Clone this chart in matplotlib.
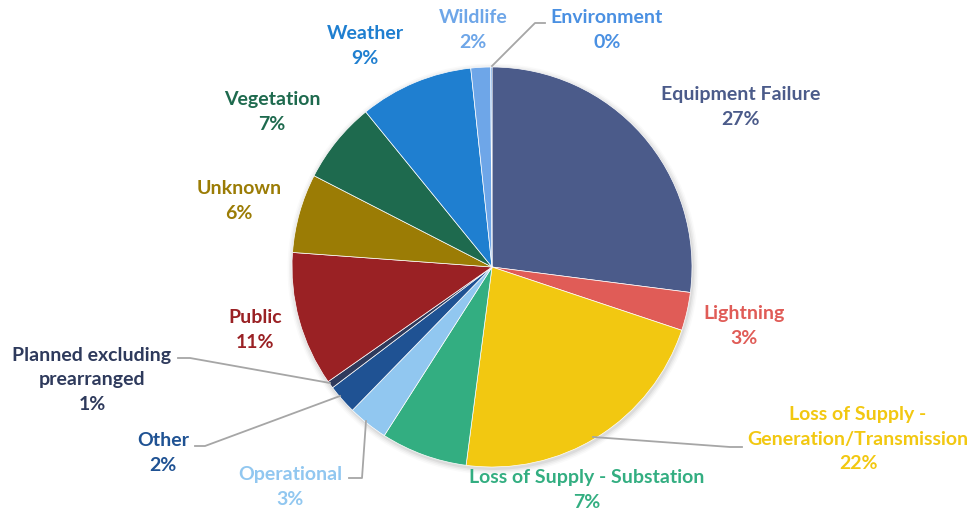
import matplotlib
matplotlib.use("Agg")
import matplotlib.pyplot as plt
from matplotlib.patches import Circle

categories = ["Equipment Failure", "Lightning", "Loss of Supply -\nGeneration/Transmission",
              "Loss of Supply - Substation", "Operational", "Other",
              "Planned excluding\nprearranged", "Public", "Unknown", "Vegetation",
              "Weather", "Wildlife", "Environment"]
values = [27.1, 3.1, 22.0, 7.0, 3.25, 2.4, 0.6, 10.9, 6.4, 6.6, 9.2, 1.6, 0.1]
colors = ["#4B5B8A", "#E05C57", "#F2C811", "#33AE81", "#91C7F0", "#1F5293",
          "#2E3A5C", "#9A2124", "#9B7C05", "#1E6A4E", "#1F7FD0", "#6EA6E8", "#4A90E2"]

W, H = 976, 514
fig = plt.figure(figsize=(W / 100, H / 100), dpi=100)
ax = fig.add_axes([0, 0, 1, 1])
ax.set_xlim(0, W)
ax.set_ylim(0, H)
ax.set_aspect("equal")
ax.axis("off")

cx, cy, r = 492, H - 267, 200

# soft shadow
for i, a in enumerate([0.05, 0.04, 0.03, 0.02]):
    ax.add_patch(Circle((cx + 1, cy - 2), r + 1 + i * 1.5, color="#000000", alpha=a, lw=0, zorder=0))

total = sum(values)
wedges, _ = ax.pie(values, colors=colors, startangle=90, counterclock=False,
                   center=(cx, cy), radius=r, frame=True,
                   wedgeprops=dict(linewidth=0.5, edgecolor="white"))
ax.set_xlim(0, W)
ax.set_ylim(0, H)
ax.axis("off")

# label centers (pixel layout) and leader lines
label_pos = [(741, 107), (744, 326), (858, 439), (587, 490), (290, 487), (163, 453),
             (92, 380), (255, 330), (239, 201), (272, 112), (365, 46), (473, 30), (607, 30)]
leaders = {
    2: [(742, 447), (730, 447), (593, 437)],
    4: [(349, 478), (362, 478), (366, 421)],
    5: [(195, 446), (205, 446), (340, 396)],
    6: [(178, 358), (190, 358), (330, 383)],
    12: [(545, 23), (535, 23), (492, 66)],
}
for i, (name, v, c) in enumerate(zip(categories, values, colors)):
    pct = round(v / total * 100)
    x, y = label_pos[i]
    ax.text(x, H - y, f"{name}\n{pct}%", ha="center", va="center", color=c,
            fontsize=14, fontweight="bold", family=["Lato", "DejaVu Sans"],
            linespacing=1.52, zorder=5)
    if i in leaders:
        pts = leaders[i]
        ax.plot([p[0] for p in pts], [H - p[1] for p in pts], color="#A6A6A6", lw=1.3, zorder=4)

fig.savefig("out.png", dpi=100, facecolor="white")
